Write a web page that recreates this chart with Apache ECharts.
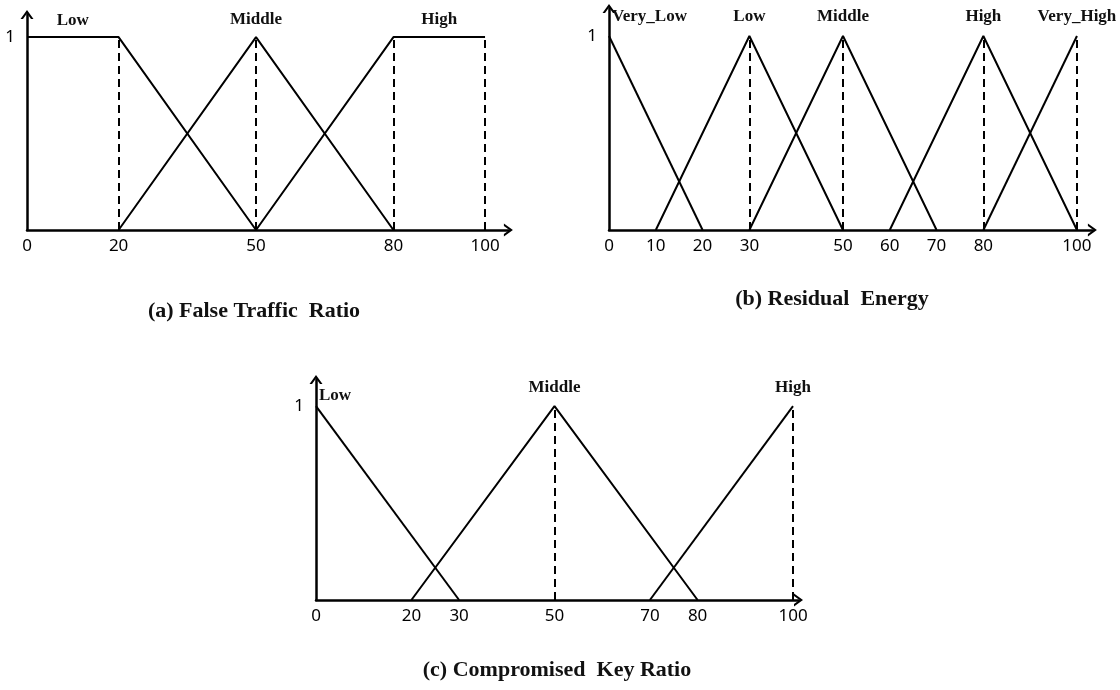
<!DOCTYPE html>
<html>
<head>
<meta charset="utf-8">
<script src="https://cdn.jsdelivr.net/npm/echarts@6/dist/echarts.min.js"></script>
<style>
html,body{margin:0;padding:0;background:#fff;}
#chart{width:1120px;height:690px;}
</style>
</head>
<body>
<div id="chart"></div>
<script>
// ---------- data ----------
// (a) False Traffic Ratio
const ticksA = [0, 20, 50, 80, 100];
const namesA = ['Low', 'Middle', 'High'];
const seriesA = [
  [[0, 1], [20, 1], [50, 0]],
  [[20, 0], [50, 1], [80, 0]],
  [[50, 0], [80, 1], [100, 1]]
];
const labelAtA = [10, 50, 90];
const guidesA = [20, 50, 80, 100];

// (b) Residual Energy
const ticksB = [0, 10, 20, 30, 50, 60, 70, 80, 100];
const namesB = ['Very_Low', 'Low', 'Middle', 'High', 'Very_High'];
const seriesB = [
  [[0, 1], [20, 0]],
  [[10, 0], [30, 1], [50, 0]],
  [[30, 0], [50, 1], [70, 0]],
  [[60, 0], [80, 1], [100, 0]],
  [[80, 0], [100, 1]]
];
const labelAtB = [0, 30, 50, 80, 100];
const guidesB = [30, 50, 80, 100];

// (c) Compromised Key Ratio
const ticksC = [0, 20, 30, 50, 70, 80, 100];
const namesC = ['Low', 'Middle', 'High'];
const seriesC = [
  [[0, 1], [30, 0]],
  [[20, 0], [50, 1], [80, 0]],
  [[70, 0], [100, 1]]
];
const labelAtC = [0, 50, 100];
const guidesC = [50, 100];

const yTicks = [1];
const captions = ['(a) False Traffic  Ratio', '(b) Residual  Energy', '(c) Compromised  Key Ratio'];

// ---------- styling / layout ----------
const arrowPath = 'path://M0,9 L6.5,0 L13,9 L10.5,9 L6.5,3.46 L2.5,9 Z';
const tickFont = { fontFamily: 'Noto Sans', fontSize: 17, color: '#000' };
const serif = 'Liberation Serif';

const panels = [
  { grid: { left: 27, top: 14.5, width: 481.4, height: 215.5 }, xMax: 105.1, yMax: 1.117,
    ticks: ticksA, names: namesA, data: seriesA, labelAt: labelAtA, guides: guidesA,
    labelDist: [7, 8, 8], leftAlign: [false, false, false] },
  { grid: { left: 609, top: 8.5, width: 483.4, height: 221.5 }, xMax: 103.3, yMax: 1.142,
    ticks: ticksB, names: namesB, data: seriesB, labelAt: labelAtB, guides: guidesB,
    labelDist: [10, 10, 10, 10, 10], leftAlign: [true, false, false, false, false] },
  { grid: { left: 316, top: 379.5, width: 482.5, height: 220.5 }, xMax: 101.15, yMax: 1.137,
    ticks: ticksC, names: namesC, data: seriesC, labelAt: labelAtC, guides: guidesC,
    labelDist: [1, 9, 9], leftAlign: [true, false, false] }
];

const grid = [], xAxis = [], yAxis = [], series = [];
panels.forEach((p, gi) => {
  grid.push(p.grid);
  const axisLine = {
    show: true, onZero: false,
    symbol: ['none', arrowPath], symbolSize: [13, 9], symbolOffset: [0, 0],
    lineStyle: { color: '#000', width: 2.5 }
  };
  xAxis.push({
    type: 'value', gridIndex: gi, min: 0, max: p.xMax,
    axisLine: axisLine, axisTick: { show: false }, splitLine: { show: false },
    axisLabel: Object.assign({ customValues: p.ticks, margin: 8 }, tickFont)
  });
  yAxis.push({
    type: 'value', gridIndex: gi, min: 0, max: p.yMax,
    axisLine: axisLine, axisTick: { show: false }, splitLine: { show: false },
    axisLabel: Object.assign({ customValues: yTicks, margin: 12 }, tickFont)
  });
  p.data.forEach((d, si) => {
    const left = p.leftAlign[si];
    series.push({
      type: 'line', name: p.names[si], xAxisIndex: gi, yAxisIndex: gi,
      data: d, symbol: 'none', silent: true, animation: false,
      lineStyle: { color: '#000', width: 2 },
      markPoint: {
        symbol: 'circle', symbolSize: 1, silent: true, animation: false,
        itemStyle: { color: 'rgba(0,0,0,0)' },
        label: {
          show: true, position: 'top', distance: p.labelDist[si],
          align: left ? 'left' : 'center', offset: left ? [3, 0] : [0, 0],
          formatter: p.names[si], color: '#111',
          fontFamily: serif, fontWeight: 'bold', fontSize: 17
        },
        data: [{ coord: [p.labelAt[si], 1] }]
      }
    });
  });
  series.push({
    type: 'line', name: 'guides' + gi, xAxisIndex: gi, yAxisIndex: gi,
    data: [], symbol: 'none', silent: true, animation: false,
    markLine: {
      symbol: ['none', 'none'], silent: true, animation: false,
      label: { show: false },
      lineStyle: { color: '#000', width: 2, type: [8, 5] },
      data: p.guides.map(x => [{ coord: [x, 0] }, { coord: [x, 1] }])
    }
  });
});

const chart = echarts.init(document.getElementById('chart'), null, { renderer: 'canvas' });
chart.setOption({
  backgroundColor: '#fff',
  animation: false,
  grid: grid, xAxis: xAxis, yAxis: yAxis, series: series,
  graphic: [
    { type: 'text', x: 254, y: 311, style: { text: captions[0], align: 'center', verticalAlign: 'middle',
      fontFamily: serif, fontWeight: 'bold', fontSize: 22, fill: '#111' } },
    { type: 'text', x: 832, y: 299, style: { text: captions[1], align: 'center', verticalAlign: 'middle',
      fontFamily: serif, fontWeight: 'bold', fontSize: 22, fill: '#111' } },
    { type: 'text', x: 557, y: 670, style: { text: captions[2], align: 'center', verticalAlign: 'middle',
      fontFamily: serif, fontWeight: 'bold', fontSize: 22, fill: '#111' } }
  ]
});
</script>
</body>
</html>
